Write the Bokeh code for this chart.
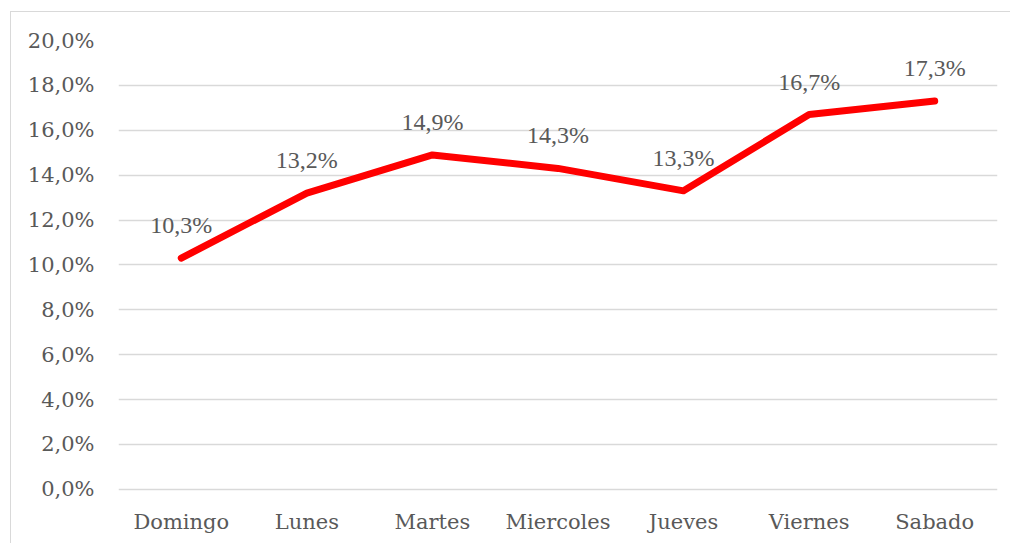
from bokeh.plotting import figure
from bokeh.models import ColumnDataSource, FixedTicker, Range1d, LabelSet
from bokeh.embed import file_html
from bokeh.resources import INLINE

days = ["Domingo", "Lunes", "Martes", "Miercoles", "Jueves", "Viernes", "Sabado"]
values = [10.3, 13.2, 14.9, 14.3, 13.3, 16.7, 17.3]
labels = ["10,3%", "13,2%", "14,9%", "14,3%", "13,3%", "16,7%", "17,3%"]
yticks = [0, 2, 4, 6, 8, 10, 12, 14, 16, 18, 20]
ytick_labels = ["0,0%", "2,0%", "4,0%", "6,0%", "8,0%", "10,0%", "12,0%", "14,0%", "16,0%", "18,0%", "20,0%"]

FONT = "DejaVu Serif"
GRAY = "#595959"

src = ColumnDataSource(dict(x=days, y=values, t=labels))

p = figure(x_range=days, y_range=Range1d(-0.1, 20), width=1000, height=532,
           output_backend="svg", toolbar_location=None,
           min_border_left=107, min_border_right=14, min_border_top=28, min_border_bottom=53,
           styles={"border-left": "1px solid #d9d9d9", "border-top": "1px solid #d9d9d9",
                   "margin-left": "10px", "margin-top": "11px"})
p.x_range.range_padding = 0
p.outline_line_color = None
p.background_fill_color = "white"
p.border_fill_color = "white"

p.line("x", "y", source=src, line_color="#ff0000", line_width=7, line_cap="round", line_join="round")

p.add_layout(LabelSet(x="x", y="y", text="t", source=src, text_align="center", text_baseline="bottom",
                      y_offset=20, text_font=FONT, text_font_size="24px", text_color=GRAY))

p.yaxis.ticker = FixedTicker(ticks=yticks)
p.yaxis.major_label_overrides = {t: l for t, l in zip(yticks, ytick_labels)}
for ax in (p.xaxis[0], p.yaxis[0]):
    ax.axis_line_color = None
    ax.major_tick_line_color = None
    ax.minor_tick_line_color = None
    ax.major_label_text_font = FONT
    ax.major_label_text_font_size = "21px"
    ax.major_label_text_color = GRAY
p.yaxis.major_label_standoff = 18
p.xaxis.major_label_standoff = 12

p.xgrid.grid_line_color = None
p.ygrid.ticker = FixedTicker(ticks=yticks)
p.ygrid.grid_line_color = "#d9d9d9"
p.ygrid.grid_line_width = 1.5

open("out.html", "w").write(file_html(p, INLINE))
